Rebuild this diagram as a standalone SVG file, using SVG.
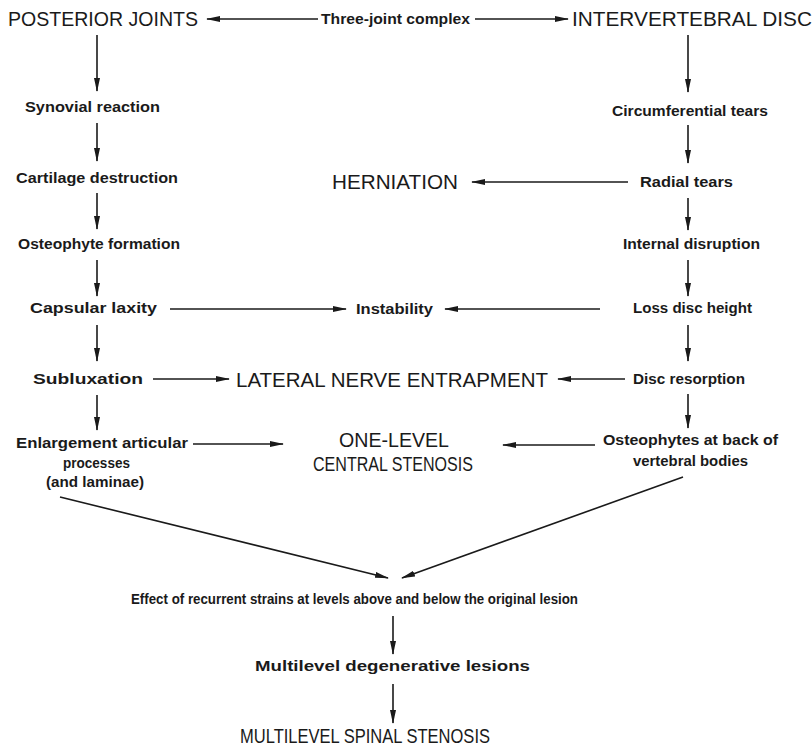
<svg xmlns="http://www.w3.org/2000/svg" width="812" height="746" viewBox="0 0 812 746">
<style>
text{font-family:"Liberation Sans",Arial,sans-serif;fill:#1a1a1a}
.s{font-size:15px;font-weight:bold}
.b{font-size:19.5px}
.c{stroke:#1a1a1a;stroke-width:1.6;fill:none}
</style>
<defs>
<marker id="ah" viewBox="0 0 14 6" refX="13" refY="3" markerWidth="14" markerHeight="6" markerUnits="userSpaceOnUse" orient="auto">
<path d="M0,0 L14,3 L0,6 Z" fill="#1a1a1a"/>
</marker>
</defs>
<rect width="812" height="746" fill="#fff"/>
<g id="connectors">
<line class="c" x1="318" y1="19" x2="207" y2="19" marker-end="url(#ah)"/>
<line class="c" x1="475" y1="19" x2="568" y2="19" marker-end="url(#ah)"/>
<line class="c" x1="97" y1="35" x2="97" y2="91" marker-end="url(#ah)"/>
<line class="c" x1="97" y1="123" x2="97" y2="161" marker-end="url(#ah)"/>
<line class="c" x1="97" y1="193" x2="97" y2="229" marker-end="url(#ah)"/>
<line class="c" x1="97" y1="260" x2="97" y2="296" marker-end="url(#ah)"/>
<line class="c" x1="97" y1="325" x2="97" y2="361" marker-end="url(#ah)"/>
<line class="c" x1="97" y1="395" x2="97" y2="430" marker-end="url(#ah)"/>
<line class="c" x1="688" y1="35" x2="688" y2="92" marker-end="url(#ah)"/>
<line class="c" x1="688" y1="125" x2="688" y2="163" marker-end="url(#ah)"/>
<line class="c" x1="688" y1="198" x2="688" y2="230" marker-end="url(#ah)"/>
<line class="c" x1="688" y1="260" x2="688" y2="296" marker-end="url(#ah)"/>
<line class="c" x1="688" y1="325" x2="688" y2="361" marker-end="url(#ah)"/>
<line class="c" x1="688" y1="394" x2="688" y2="428" marker-end="url(#ah)"/>
<line class="c" x1="628" y1="182" x2="472" y2="182" marker-end="url(#ah)"/>
<line class="c" x1="170" y1="309" x2="346" y2="309" marker-end="url(#ah)"/>
<line class="c" x1="600" y1="309" x2="445" y2="309" marker-end="url(#ah)"/>
<line class="c" x1="153" y1="379" x2="229" y2="379" marker-end="url(#ah)"/>
<line class="c" x1="625" y1="379" x2="558" y2="379" marker-end="url(#ah)"/>
<line class="c" x1="193" y1="444" x2="283" y2="444" marker-end="url(#ah)"/>
<line class="c" x1="595" y1="445" x2="503" y2="445" marker-end="url(#ah)"/>
<line class="c" x1="60" y1="497" x2="388" y2="578" marker-end="url(#ah)"/>
<line class="c" x1="683" y1="477" x2="402" y2="578" marker-end="url(#ah)"/>
<line class="c" x1="393" y1="616" x2="393" y2="654" marker-end="url(#ah)"/>
<line class="c" x1="393" y1="684" x2="393" y2="723" marker-end="url(#ah)"/>
</g>
<g id="posterior-joints"><text class="b" x="8" y="26" textLength="190" lengthAdjust="spacingAndGlyphs">POSTERIOR JOINTS</text></g>
<g id="three-joint"><text class="s" x="321" y="24" textLength="149" lengthAdjust="spacingAndGlyphs">Three-joint complex</text></g>
<g id="intervertebral-disc"><text class="b" x="572" y="26" textLength="240" lengthAdjust="spacingAndGlyphs">INTERVERTEBRAL DISC</text></g>
<g id="synovial"><text class="s" x="25" y="112" textLength="135" lengthAdjust="spacingAndGlyphs">Synovial reaction</text></g>
<g id="cartilage"><text class="s" x="16" y="183" textLength="162" lengthAdjust="spacingAndGlyphs">Cartilage destruction</text></g>
<g id="osteophyte-formation"><text class="s" x="18" y="249" textLength="162" lengthAdjust="spacingAndGlyphs">Osteophyte formation</text></g>
<g id="capsular"><text class="s" x="30" y="313" textLength="127" lengthAdjust="spacingAndGlyphs">Capsular laxity</text></g>
<g id="subluxation"><text class="s" x="33" y="384" textLength="110" lengthAdjust="spacingAndGlyphs">Subluxation</text></g>
<g id="enlargement">
<text class="s" x="16" y="448" textLength="172" lengthAdjust="spacingAndGlyphs">Enlargement articular</text>
<text class="s" x="63" y="468" textLength="67" lengthAdjust="spacingAndGlyphs">processes</text>
<text class="s" x="46" y="487" textLength="98" lengthAdjust="spacingAndGlyphs">(and laminae)</text>
</g>
<g id="circumferential"><text class="s" x="612" y="116" textLength="156" lengthAdjust="spacingAndGlyphs">Circumferential tears</text></g>
<g id="radial"><text class="s" x="640" y="187" textLength="93" lengthAdjust="spacingAndGlyphs">Radial tears</text></g>
<g id="herniation"><text class="b" x="332" y="189" textLength="126" lengthAdjust="spacingAndGlyphs">HERNIATION</text></g>
<g id="internal"><text class="s" x="623" y="249" textLength="137" lengthAdjust="spacingAndGlyphs">Internal disruption</text></g>
<g id="loss"><text class="s" x="633" y="313" textLength="119" lengthAdjust="spacingAndGlyphs">Loss  disc height</text></g>
<g id="instability"><text class="s" x="356" y="314" textLength="77" lengthAdjust="spacingAndGlyphs">Instability</text></g>
<g id="disc-resorption"><text class="s" x="633" y="384" textLength="112" lengthAdjust="spacingAndGlyphs">Disc resorption</text></g>
<g id="lateral"><text class="b" x="236" y="387" textLength="312" lengthAdjust="spacingAndGlyphs">LATERAL NERVE ENTRAPMENT</text></g>
<g id="one-level">
<text class="b" x="339" y="447" textLength="110" lengthAdjust="spacingAndGlyphs">ONE-LEVEL</text>
<text class="b" x="313" y="471" textLength="160" lengthAdjust="spacingAndGlyphs">CENTRAL STENOSIS</text>
</g>
<g id="osteophytes-back">
<text class="s" x="603" y="445" textLength="175" lengthAdjust="spacingAndGlyphs">Osteophytes at back of</text>
<text class="s" x="633" y="466" textLength="115" lengthAdjust="spacingAndGlyphs">vertebral bodies</text>
</g>
<g id="effect"><text class="s" x="131" y="604" textLength="447" lengthAdjust="spacingAndGlyphs">Effect of recurrent strains at levels above and below the original lesion</text></g>
<g id="multilevel-lesions"><text class="s" x="255" y="671" textLength="275" lengthAdjust="spacingAndGlyphs">Multilevel degenerative lesions</text></g>
<g id="multilevel-stenosis"><text class="b" x="240" y="743" textLength="250" lengthAdjust="spacingAndGlyphs">MULTILEVEL SPINAL STENOSIS</text></g>
</svg>
